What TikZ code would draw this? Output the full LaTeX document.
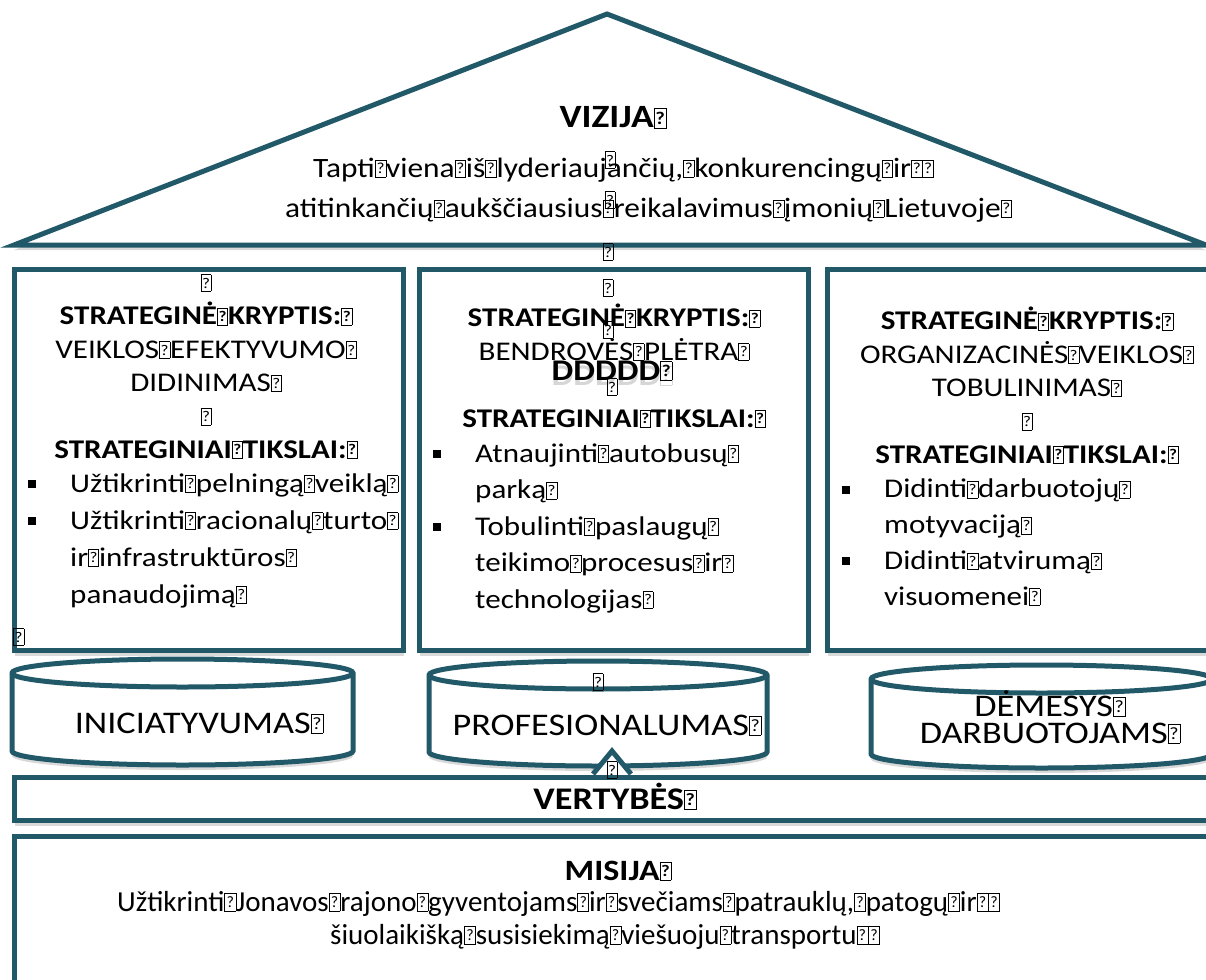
\documentclass[tikz,border=0pt]{standalone}
\usepackage{fontspec}
\setmainfont{Carlito}
\newfontfamily\wideface{Carlito}[FakeStretch=1.15]
\newfontfamily\roofface{Carlito}[FakeStretch=1.12]
\usetikzlibrary{shadows}
\definecolor{cFrame}{RGB}{34, 89, 104}
% box glyph that the reference prints in place of spaces
\newcommand{\qbox}{{\fboxsep=0pt\fboxrule=0.6pt\fbox{\vbox to 0.6em{\vss\hbox to 0.36em{\hss\scalebox{0.55}{?}\hss}\vss}}}}
\newcommand{\goalbullet}{\makebox[42pt][l]{\rule[4pt]{8pt}{8pt}}}
\newcommand{\goalindent}{\hspace*{42pt}}
\tikzset{
    % frames
    frame/.style={
        draw=cFrame, line width=5pt, fill=white,
        drop shadow={opacity=0.3, shadow xshift=0pt, shadow yshift=-5pt}
    },
    panel/.style={
        frame, rectangle, inner sep=0pt, anchor=north west
    },
    % texts (anchor=base sits on the last line)
    panelHead/.style={
        font=\wideface\fontsize{27}{33.3}\selectfont, align=center, anchor=base, inner sep=0pt
    },
    goalList/.style={
        font=\wideface\fontsize{27}{37}\selectfont, align=left, anchor=base west, inner sep=0pt
    },
    cylText/.style={
        font=\wideface\fontsize{31.5}{27}\selectfont, align=center, anchor=base, inner sep=0pt
    },
    roofLine/.style={
        font=\roofface\fontsize{28}{32}\selectfont, anchor=base west, inner sep=0pt
    },
    misLine/.style={
        font=\fontsize{29}{32}\selectfont, anchor=base west, inner sep=0pt
    },
    stray/.style={
        font=\wideface\fontsize{27}{27}\selectfont, inner sep=0pt
    }
}

\begin{document}
\begin{tikzpicture}[x=1pt, y=-1pt]
    \path[use as bounding box, clip] (0,0) rectangle (1206,979);

    % 1. Roof: vizija
    \draw[frame] (14,245) coordinate (roofL) -- (607,14) coordinate (roofTop)
        -- (1206,245) coordinate (roofR) -- cycle;
    \node[anchor=base, inner sep=0pt, font=\wideface\bfseries\fontsize{32.5}{32}\selectfont] (vizTitle) at (613,128) {VIZIJA\qbox};
    \node[roofLine] (vizLine1) at (313,177) {Tapti\qbox viena\qbox iš\qbox lyderiaujančių,\qbox konkurencingų\qbox ir\qbox\qbox};
    \node[roofLine] (vizLine2) at (285,217) {atitinkančių\qbox aukščiausius\qbox reikalavimus\qbox įmonių\qbox Lietuvoje\qbox};
    \node[stray] (vizQ1) at (610,160) {\qbox};
    \node[stray] (vizQ2) at (610,200) {\qbox};

    % 2. Strategic directions
    \node[panel, minimum width=389pt, minimum height=381pt] (lbox) at (12,267) {};
    \node[panel, minimum width=389pt, minimum height=381pt] (mbox) at (417,267) {};
    \node[panel, minimum width=409pt, minimum height=381pt] (rbox) at (825,267) {};
    \node[stray] (vizQ3) at (608,252) {\qbox};

    % left
    \node[stray] (lQ1) at (206,283) {\qbox};
    \node[panelHead] (lHead) at (206,458) {
        \textbf{STRATEGINĖ\qbox KRYPTIS:\qbox}\\
        VEIKLOS\qbox EFEKTYVUMO\qbox\\
        DIDINIMAS\qbox\\
        \qbox\\
        \textbf{STRATEGINIAI\qbox TIKSLAI:\qbox}
    };
    \node[goalList] (lGoals) at (28,603) {
        \goalbullet Užtikrinti\qbox pelningą\qbox veiklą\qbox\\
        \goalbullet Užtikrinti\qbox racionalų\qbox turto\qbox\\
        \goalindent ir\qbox infrastruktūros\qbox\\
        \goalindent panaudojimą\qbox
    };
    \node[stray, anchor=west] (lQ2) at (13,637) {\qbox};

    % middle
    \node[stray] (mQ1) at (608,288) {\qbox};
    \node[panelHead] (mHead) at (614,360) {
        \textbf{STRATEGINĖ\qbox KRYPTIS:\qbox}\\
        BENDROVĖS\qbox PLĖTRA\qbox
    };
    \node[anchor=base, inner sep=0pt, text=gray!45, opacity=0.7,
        font=\wideface\bfseries\fontsize{30}{30}\selectfont] (mDshadow) at (612,385) {DDDDD\qbox};
    \node[anchor=base, inner sep=0pt,
        font=\wideface\bfseries\fontsize{30}{30}\selectfont] (mD) at (612,380) {DDDDD\qbox};
    \node[stray] (mQ2) at (608,330) {\qbox};
    \node[stray] (mQ3) at (612,387) {\qbox};
    \node[panelHead] (mHead2) at (614,427) {\textbf{STRATEGINIAI\qbox TIKSLAI:\qbox}};
    \node[goalList, font=\wideface\fontsize{27}{36.5}\selectfont] (mGoals) at (433,608) {
        \goalbullet Atnaujinti\qbox autobusų\qbox\\
        \goalindent parką\qbox\\
        \goalbullet Tobulinti\qbox paslaugų\qbox\\
        \goalindent teikimo\qbox procesus\qbox ir\qbox\\
        \goalindent technologijas\qbox
    };

    % right
    \node[panelHead] (rHead) at (1027,463) {
        \textbf{STRATEGINĖ\qbox KRYPTIS:\qbox}\\
        ORGANIZACINĖS\qbox VEIKLOS\qbox\\
        TOBULINIMAS\qbox\\
        \qbox\\
        \textbf{STRATEGINIAI\qbox TIKSLAI:\qbox}
    };
    \node[goalList, font=\wideface\fontsize{27}{35.7}\selectfont] (rGoals) at (842,605) {
        \goalbullet Didinti\qbox darbuotojų\qbox\\
        \goalindent motyvaciją\qbox\\
        \goalbullet Didinti\qbox atvirumą\qbox\\
        \goalindent visuomenei\qbox
    };

    % 3. Values: cylinders
    \draw[frame] (12,673) -- (12,751) arc[start angle=180, end angle=360, x radius=170.5pt, y radius=14pt]
        -- (353,673) arc[start angle=0, end angle=180, x radius=170.5pt, y radius=14pt] -- cycle;
    \draw[draw=cFrame, line width=5pt] (12,673) arc[start angle=180, end angle=360, x radius=170.5pt, y radius=14pt];
    \draw[frame] (429,675) -- (429,752) arc[start angle=180, end angle=360, x radius=169pt, y radius=14pt]
        -- (767,675) arc[start angle=0, end angle=180, x radius=169pt, y radius=14pt] -- cycle;
    \draw[draw=cFrame, line width=5pt] (429,675) arc[start angle=180, end angle=360, x radius=169pt, y radius=14pt];
    \draw[frame] (871,679) -- (871,754) arc[start angle=180, end angle=360, x radius=170.5pt, y radius=14pt]
        -- (1212,679) arc[start angle=0, end angle=180, x radius=170.5pt, y radius=14pt] -- cycle;
    \draw[draw=cFrame, line width=5pt] (871,679) arc[start angle=180, end angle=360, x radius=170.5pt, y radius=14pt];

    \node[cylText] (cylLeft) at (199,733) {INICIATYVUMAS\qbox};
    \node[cylText] (cylMid) at (607,735) {PROFESIONALUMAS\qbox};
    \node[stray] (cylQ) at (598,682) {\qbox};
    \node[cylText] (cylRight) at (1050,743) {DĖMESYS\qbox\\DARBUOTOJAMS\qbox};

    % 4. Vertybes bar
    \node[panel, minimum width=1222pt, minimum height=43pt] (vbar) at (12,775) {};
    \draw[draw=cFrame, line width=5pt, fill=white] (593,774) -- (612,751) -- (631,774);
    \node[stray] (vbarQ) at (612,770) {\qbox};
    \node[anchor=base, inner sep=0pt, font=\wideface\bfseries\fontsize{31.5}{31}\selectfont] (vbarText) at (615,809) {VERTYBĖS\qbox};

    % 5. Misija
    \node[panel, minimum width=1222pt, minimum height=170pt] (mis) at (12,834) {};
    \node[anchor=base, inner sep=0pt, font=\wideface\bfseries\fontsize{29.5}{29}\selectfont] (misTitle) at (618,880) {MISIJA\qbox};
    \node[misLine] (misLine1) at (117,911) {Užtikrinti\qbox Jonavos\qbox rajono\qbox gyventojams\qbox ir\qbox svečiams\qbox patrauklų,\qbox patogų\qbox ir\qbox\qbox};
    \node[misLine] (misLine2) at (330,944) {šiuolaikišką\qbox susisiekimą\qbox viešuoju\qbox transportu\qbox\qbox};

\end{tikzpicture}
\end{document}
